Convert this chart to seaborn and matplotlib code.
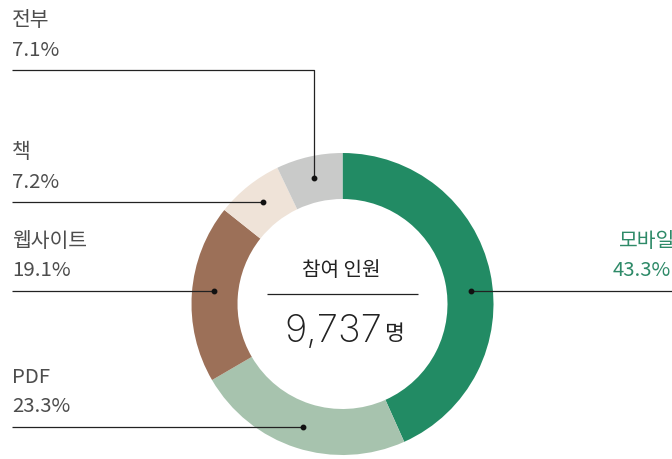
import numpy as np
import matplotlib
matplotlib.use("Agg")
import matplotlib.pyplot as plt
import seaborn as sns

# Survey: channel share of participants
categories = ["모바일", "PDF", "웹사이트", "책", "전부"]
shares = [43.3, 23.3, 19.1, 7.2, 7.1]
value_labels = ["43.3%", "23.3%", "19.1%", "7.2%", "7.1%"]
participants = 9737
center_title = "참여 인원"
unit = "명"

palette = ["#228b64", "#a7c3ae", "#9c7058", "#efe3d8", "#c9cac9"]

sns.set_theme(style="white")
plt.rcParams["font.family"] = ["Noto Sans CJK KR", "DejaVu Sans"]

W, H = 672, 459
fig = plt.figure(figsize=(W / 100, H / 100), dpi=100)
ax = fig.add_axes([0, 0, 1, 1])

# donut geometry in pixel units (y measured from the top of the canvas)
cx, cy = 342.5, 304.0
r_out, ring = 151.0, 46.0
r_mid = r_out - ring / 2 + 1


def Y(y):
    return H - y


ax.pie(shares, colors=palette, startangle=90, counterclock=False,
       radius=r_out, center=(cx, Y(cy)),
       wedgeprops=dict(width=ring, linewidth=0))

ax.set_xlim(0, W)
ax.set_ylim(0, H)
ax.set_aspect("equal")
ax.axis("off")

# mid angle of each wedge (degrees clockwise from 12 o'clock)
cum = np.cumsum([0] + shares)
total = cum[-1]
mid_deg = (cum[:-1] + cum[1:]) / 2 / total * 360

line_kw = dict(color="#222222", lw=0.9, solid_capstyle="butt", zorder=3)
dot_kw = dict(marker="o", ms=3.2, color="#111111", zorder=4)
text_col = "#4d4d4d"
fs = 14.7

# leader layout: side, leader height (px from top)
leaders = {
    "모바일": ("right", 291.0),
    "PDF": ("left", 426.7),
    "웹사이트": ("left", 291.0),
    "책": ("left", 202.3),
    "전부": ("top", 70.3),
}
x_left = 12.0
x_right_value = 612.5
x_right_name = 619.0

for i, cat in enumerate(categories):
    side, ly = leaders[cat]
    a = np.deg2rad(mid_deg[i])
    if side == "top":
        dx = cx + r_mid * np.sin(a)
        dy = cy - r_mid * np.cos(a)
        ax.plot([x_left, dx, dx], [Y(ly), Y(ly), Y(dy)], **line_kw)
    else:
        off = np.sqrt(r_mid ** 2 - (ly - cy) ** 2)
        dx = cx + off if side == "right" else cx - off
        dy = ly
        end = W if side == "right" else x_left
        ax.plot([end, dx], [Y(ly), Y(ly)], **line_kw)
    ax.plot([dx], [Y(dy)], **dot_kw)

    if side == "right":
        col, xv, xn = "#2e8a68", x_right_value, x_right_name
    else:
        col, xv, xn = text_col, x_left, x_left
    ax.text(xv, Y(ly - 14.5), value_labels[i], ha="left", va="baseline",
            fontsize=fs, color=col)
    ax.text(xn, Y(ly - 44.0), cat, ha="left", va="baseline",
            fontsize=fs, color=col)

# centre caption
ax.text(cx - 1.5, Y(276.5), center_title, ha="center", va="baseline",
        fontsize=14.5, color="#222222")
ax.plot([cx - 75.5, cx + 75.5], [Y(294.3), Y(294.3)], color="#222222",
        lw=0.9, solid_capstyle="butt")
ax.text(cx + 39.5, Y(341.5), f"{participants:,}", ha="right", va="baseline",
        fontsize=27.5, color="#222222", family=["Inter", "DejaVu Sans"],
        fontweight="light")
ax.text(cx + 42.5, Y(340.0), unit, ha="left", va="baseline",
        fontsize=15.5, color="#222222")

fig.savefig("out.png", dpi=100)
